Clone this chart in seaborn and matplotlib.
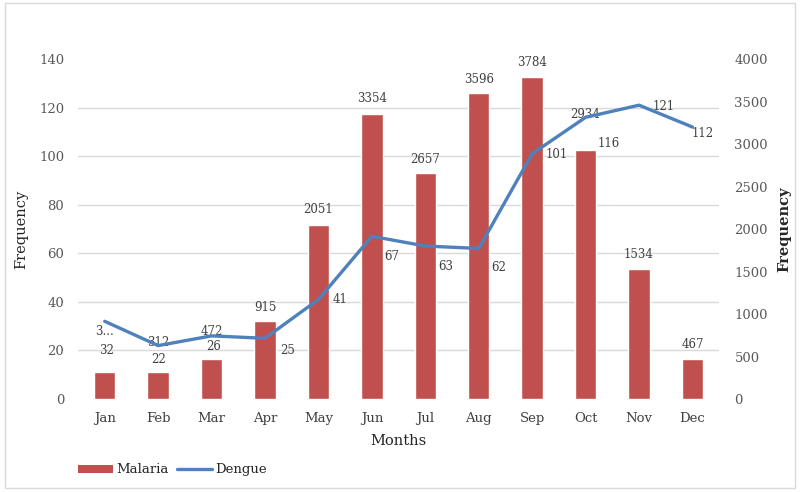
import numpy as np
import pandas as pd
import matplotlib
matplotlib.use("Agg")
import matplotlib.pyplot as plt
import seaborn as sns
from matplotlib.patches import Patch, Rectangle
from matplotlib.lines import Line2D

months = ["Jan", "Feb", "Mar", "Apr", "May", "Jun", "Jul", "Aug", "Sep", "Oct", "Nov", "Dec"]
malaria = [320, 312, 472, 915, 2051, 3354, 2657, 3596, 3784, 2934, 1534, 467]
malaria_labels = ["3...", "312", "472", "915", "2051", "3354", "2657", "3596", "3784", "2934", "1534", "467"]
dengue = [32, 22, 26, 25, 41, 67, 63, 62, 101, 116, 121, 112]

# label placement offsets (pixels): bars above top, line (dx, dy)
bar_label_dy = [40, 30, 27, 14, 15, 15, 14, 14, 15, 35, 14, 15]
line_label_off = [(2, -29), (0, -14), (2, -11), (23, -12), (22, 0), (20, -20),
                  (20, -20), (20, -19), (25, -1), (23, -26), (25, -1), (10, -6)]

LEFT_MAX, RIGHT_MAX = 140, 4000

sns.set_theme(style="white")
plt.rcParams["font.family"] = ["DejaVu Serif"]

BAR = "#C0504D"
LINE = "#4F81BD"
TICK = "#595959"
TXT = "#404040"

fig = plt.figure(figsize=(8, 4.92), dpi=100, facecolor="white")
ax = fig.add_axes([0.0975, 0.189, 0.8015, 0.691])
ax2 = ax.twinx()

df = pd.DataFrame({"Month": months, "Malaria": malaria, "Dengue": dengue, "pos": np.arange(12)})

sns.barplot(data=df, x="Month", y="Malaria", ax=ax2, color=BAR, width=0.4,
            saturation=1, order=months)
ax2.set_ylim(0, RIGHT_MAX)
ax2.set_yticks(np.arange(0, RIGHT_MAX + 1, 500))
# gridlines follow the left axis ticks, drawn behind the bars
left_ticks = np.arange(0, LEFT_MAX + 1, 20)
ax2.set_yticks(left_ticks * RIGHT_MAX / LEFT_MAX, minor=True)
ax2.grid(False)
ax2.grid(axis="y", which="minor", color="#D9D9D9", linewidth=1)
ax2.set_axisbelow(True)

sns.lineplot(data=df, x="pos", y="Dengue", ax=ax, color=LINE, linewidth=2.4)
ax.set_ylim(0, LEFT_MAX)
ax.set_yticks(left_ticks)
ax.set_xlim(-0.5, 11.5)
ax.set_xticks(np.arange(12))
ax.set_xticklabels(months)
ax.grid(False)

ax.set_zorder(ax2.get_zorder() + 1)
ax.patch.set_visible(False)

for a in (ax, ax2):
    for s in a.spines.values():
        s.set_visible(False)
    a.tick_params(which="both", length=0, labelsize=9.5, labelcolor=TICK)
ax.tick_params(axis="y", pad=10)
ax.tick_params(axis="x", pad=9, labelcolor=TXT)
ax2.tick_params(axis="y", pad=11)

ax.set_xlabel("Months", fontsize=10.5, color="#262626", labelpad=7)
ax.set_ylabel("Frequency", fontsize=10.5, color="#262626", labelpad=8)
ax2.set_ylabel("Frequency", fontsize=10.5, color="#262626", fontweight="bold", labelpad=7)

for i, (v, lab) in enumerate(zip(malaria, malaria_labels)):
    ax2.annotate(lab, (i, v), xytext=(0, bar_label_dy[i]), textcoords="offset pixels",
                 ha="center", va="center", fontsize=8.5, color=TXT, zorder=5)

for i, v in enumerate(dengue):
    dx, dy = line_label_off[i]
    ax.annotate(str(v), (i, v), xytext=(dx, dy), textcoords="offset pixels",
                ha="center", va="center", fontsize=8.5, color=TXT, zorder=5)

handles = [Patch(facecolor=BAR, edgecolor="none"),
           Line2D([0], [0], color=LINE, linewidth=2.4)]
fig.legend(handles, ["Malaria", "Dengue"], loc="center left", bbox_to_anchor=(0.083, 0.045),
           ncol=2, frameon=False, fontsize=9.5, handlelength=2.6, handleheight=0.6,
           columnspacing=0.7, handletextpad=0.25, labelcolor="#262626")

fig.add_artist(Rectangle((0.006, 0.008), 0.988, 0.985, transform=fig.transFigure,
                         fill=False, edgecolor="#D9D9D9", linewidth=1))

fig.savefig("out.png", dpi=100, facecolor="white")
